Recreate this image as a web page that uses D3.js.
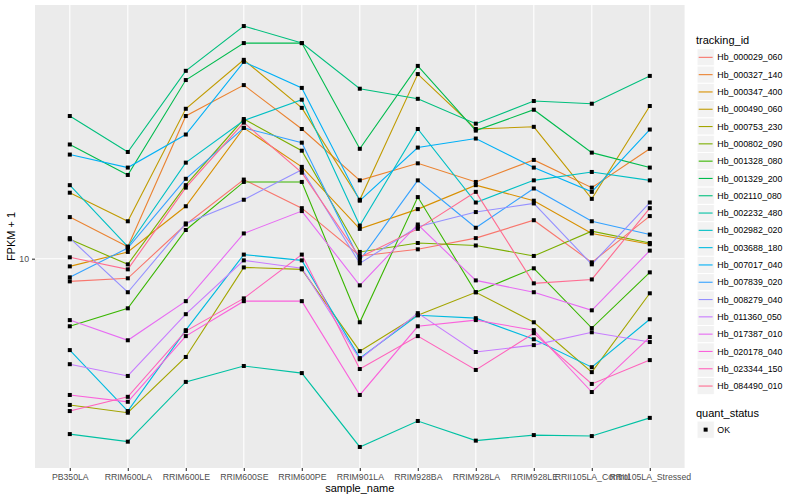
<!DOCTYPE html>
<html>
<head>
<meta charset="utf-8">
<script src="https://cdn.jsdelivr.net/npm/d3@7"></script>
<style>
  body { margin: 0; background: #fff; }
  text { font-family: "Liberation Sans", Arial, sans-serif; }
</style>
</head>
<body>
<svg id="chart" width="800" height="500"></svg>
<script>
// samples on the x axis
const samples = ['PB350LA', 'RRIM600LA', 'RRIM600LE', 'RRIM600SE', 'RRIM600PE', 'RRIM901LA',
  'RRIM928BA', 'RRIM928LA', 'RRIM928LE', 'RRII105LA_Control', 'RRII105LA_Stressed'];

const trackingIds = ['Hb_000029_060', 'Hb_000327_140', 'Hb_000347_400', 'Hb_000490_060', 'Hb_000753_230',
  'Hb_000802_090', 'Hb_001328_080', 'Hb_001329_200', 'Hb_002110_080', 'Hb_002232_480',
  'Hb_002982_020', 'Hb_003688_180', 'Hb_007017_040', 'Hb_007839_020', 'Hb_008279_040',
  'Hb_011360_050', 'Hb_017387_010', 'Hb_020178_040', 'Hb_023344_150', 'Hb_084490_010'];

const quantStatus = ['OK'];

// FPKM + 1, one row per tracking id, one value per sample
const fpkm = [
  [8.49, 8.68, 12.8, 17.7, 14.4, 10.2, 10.7, 11.6, 13.2, 9.74, 13.6],
  [13.5, 10.9, 28.0, 35.0, 25.5, 17.6, 19.9, 17.4, 20.4, 16.7, 22.1],
  [9.46, 10.5, 14.6, 25.7, 19.4, 12.4, 14.3, 17.0, 15.2, 12.0, 11.1],
  [16.1, 13.1, 29.5, 42.0, 29.7, 15.3, 37.9, 25.5, 25.9, 15.4, 30.1],
  [3.48, 3.29, 4.92, 9.39, 9.26, 5.13, 6.65, 7.85, 6.32, 4.41, 7.79],
  [11.5, 9.60, 17.0, 27.4, 21.8, 10.5, 11.2, 11.0, 10.2, 12.2, 11.2],
  [6.14, 6.99, 12.3, 17.4, 17.4, 6.32, 15.6, 7.85, 9.33, 6.06, 9.06],
  [22.8, 18.3, 36.3, 47.4, 47.4, 22.1, 40.2, 25.2, 29.3, 21.5, 19.3],
  [28.0, 21.6, 38.8, 53.6, 47.4, 34.1, 31.7, 26.5, 31.2, 30.6, 37.4],
  [2.82, 2.67, 4.11, 4.61, 4.38, 2.57, 3.10, 2.69, 2.80, 2.78, 3.17],
  [17.0, 10.9, 20.0, 27.1, 31.5, 12.7, 25.5, 15.0, 17.6, 18.7, 17.6],
  [5.17, 3.33, 5.97, 10.3, 9.88, 4.88, 6.65, 6.51, 5.59, 4.57, 6.46],
  [21.2, 19.3, 24.5, 41.4, 34.3, 15.2, 22.3, 23.8, 19.3, 16.2, 25.4],
  [8.74, 10.8, 17.8, 25.7, 23.1, 9.88, 17.6, 12.5, 16.6, 13.1, 11.9],
  [11.6, 7.85, 12.9, 15.3, 19.0, 9.67, 12.6, 14.0, 14.9, 9.60, 15.0],
  [4.67, 4.29, 6.70, 9.88, 9.33, 4.84, 6.75, 5.10, 5.36, 5.88, 5.48],
  [6.42, 5.55, 7.36, 12.0, 14.1, 8.25, 12.8, 8.55, 7.85, 6.89, 10.6],
  [3.74, 3.56, 5.72, 7.36, 7.36, 3.74, 6.14, 6.42, 5.97, 3.82, 5.68],
  [3.33, 3.69, 5.93, 7.51, 10.3, 4.51, 5.72, 4.48, 5.84, 4.05, 4.81],
  [10.1, 9.26, 16.7, 26.7, 18.6, 10.1, 12.4, 16.2, 8.37, 8.61, 14.4]
];

// ggplot default hue palette for 20 levels
const palette = ['#F8766D', '#EA8331', '#D89000', '#C09B00', '#A3A500', '#7CAE00', '#39B600',
  '#00BB4E', '#00BF7D', '#00C1A3', '#00BFC4', '#00BAE0', '#00B0F6', '#35A2FF', '#9590FF',
  '#C77CFF', '#E76BF3', '#FA62DB', '#FF62BC', '#FF6C91'];

const svg = d3.select('#chart');
const panel = { left: 35, right: 684.6, top: 5, bottom: 468 };

const color = d3.scaleOrdinal().domain(trackingIds).range(palette);

const x = d3.scalePoint()
  .domain(samples)
  .range([panel.left, panel.right])
  .padding(0.6);

// log scale with ggplot style 5% expansion
const all = fpkm.flat();
const lo = Math.log10(d3.min(all)), hi = Math.log10(d3.max(all));
const pad = (hi - lo) * 0.05;
const y = d3.scaleLog()
  .domain([Math.pow(10, lo - pad), Math.pow(10, hi + pad)])
  .range([panel.bottom, panel.top]);

// panel background + grid
svg.append('rect')
  .attr('x', panel.left).attr('y', panel.top)
  .attr('width', panel.right - panel.left).attr('height', panel.bottom - panel.top)
  .attr('fill', '#EBEBEB');

const grid = svg.append('g').attr('stroke', '#fff').attr('stroke-width', 1.1);
grid.selectAll('line.v')
  .data(samples)
  .enter()
  .append('line')
  .attr('x1', d => x(d)).attr('x2', d => x(d))
  .attr('y1', panel.top).attr('y2', panel.bottom);
grid.selectAll('line.h')
  .data([10])
  .enter()
  .append('line')
  .attr('x1', panel.left).attr('x2', panel.right)
  .attr('y1', d => y(d)).attr('y2', d => y(d));

// lines
const line = d3.line()
  .x((d, i) => x(samples[i]))
  .y(d => y(d));

svg.append('g')
  .selectAll('path')
  .data(fpkm)
  .enter()
  .append('path')
  .attr('fill', 'none')
  .attr('stroke', (d, i) => color(trackingIds[i]))
  .attr('stroke-width', 1.1)
  .attr('d', line);

// points
const pts = fpkm.flatMap(row => row.map((v, i) => ({ sample: samples[i], v })));
svg.append('g')
  .selectAll('rect')
  .data(pts)
  .enter()
  .append('rect')
  .attr('x', d => x(d.sample) - 2)
  .attr('y', d => y(d.v) - 2)
  .attr('width', 4)
  .attr('height', 4)
  .attr('fill', '#000');

// axes
const yAxis = svg.append('g')
  .attr('transform', `translate(${panel.left},0)`)
  .call(d3.axisLeft(y).tickValues([10]).tickSize(3).tickPadding(3).tickFormat(d3.format('d')));
const xAxis = svg.append('g')
  .attr('transform', `translate(0,${panel.bottom})`)
  .call(d3.axisBottom(x).tickSize(3).tickPadding(3));

[yAxis, xAxis].forEach(a => {
  a.select('.domain').remove();
  a.selectAll('.tick line').attr('stroke', '#333333').attr('stroke-width', 1.1);
  a.selectAll('.tick text')
    .attr('fill', '#4D4D4D')
    .style('font-size', '8.7px')
    .style('font-family', '"Liberation Sans", Arial, sans-serif');
});

svg.append('text')
  .attr('x', (panel.left + panel.right) / 2)
  .attr('y', 492)
  .attr('text-anchor', 'middle')
  .style('font-size', '11px')
  .text('sample_name');

svg.append('text')
  .attr('transform', `translate(15,${(panel.top + panel.bottom) / 2}) rotate(-90)`)
  .attr('text-anchor', 'middle')
  .style('font-size', '11px')
  .text('FPKM + 1');

// legend: tracking_id
const legX = 697, keySize = 17.3, legTop = 48.7;
svg.append('text')
  .attr('x', legX - 1).attr('y', 43.5)
  .style('font-size', '11px')
  .text('tracking_id');

const keys = svg.append('g')
  .selectAll('g')
  .data(trackingIds)
  .enter()
  .append('g')
  .attr('transform', (d, i) => `translate(${legX},${legTop + i * keySize})`);

keys.append('rect')
  .attr('width', keySize).attr('height', keySize)
  .attr('fill', '#F2F2F2').attr('stroke', '#fff').attr('stroke-width', 1);
keys.append('line')
  .attr('x1', 1.7).attr('x2', keySize - 1.7)
  .attr('y1', keySize / 2).attr('y2', keySize / 2)
  .attr('stroke', d => color(d)).attr('stroke-width', 1.1);
keys.append('text')
  .attr('x', keySize + 3).attr('y', keySize / 2 + 3.1)
  .style('font-size', '8.8px')
  .text(d => d);

// legend: quant_status
svg.append('text')
  .attr('x', legX - 1).attr('y', 416.5)
  .style('font-size', '11px')
  .text('quant_status');

const qkeys = svg.append('g')
  .selectAll('g')
  .data(quantStatus)
  .enter()
  .append('g')
  .attr('transform', (d, i) => `translate(${legX},${421 + i * keySize})`);
qkeys.append('rect')
  .attr('width', keySize).attr('height', keySize)
  .attr('fill', '#F2F2F2').attr('stroke', '#fff');
qkeys.append('rect')
  .attr('x', keySize / 2 - 2).attr('y', keySize / 2 - 2)
  .attr('width', 4).attr('height', 4)
  .attr('fill', '#000');
qkeys.append('text')
  .attr('x', keySize + 3).attr('y', keySize / 2 + 3.1)
  .style('font-size', '8.8px')
  .text(d => d);
</script>
</body>
</html>
